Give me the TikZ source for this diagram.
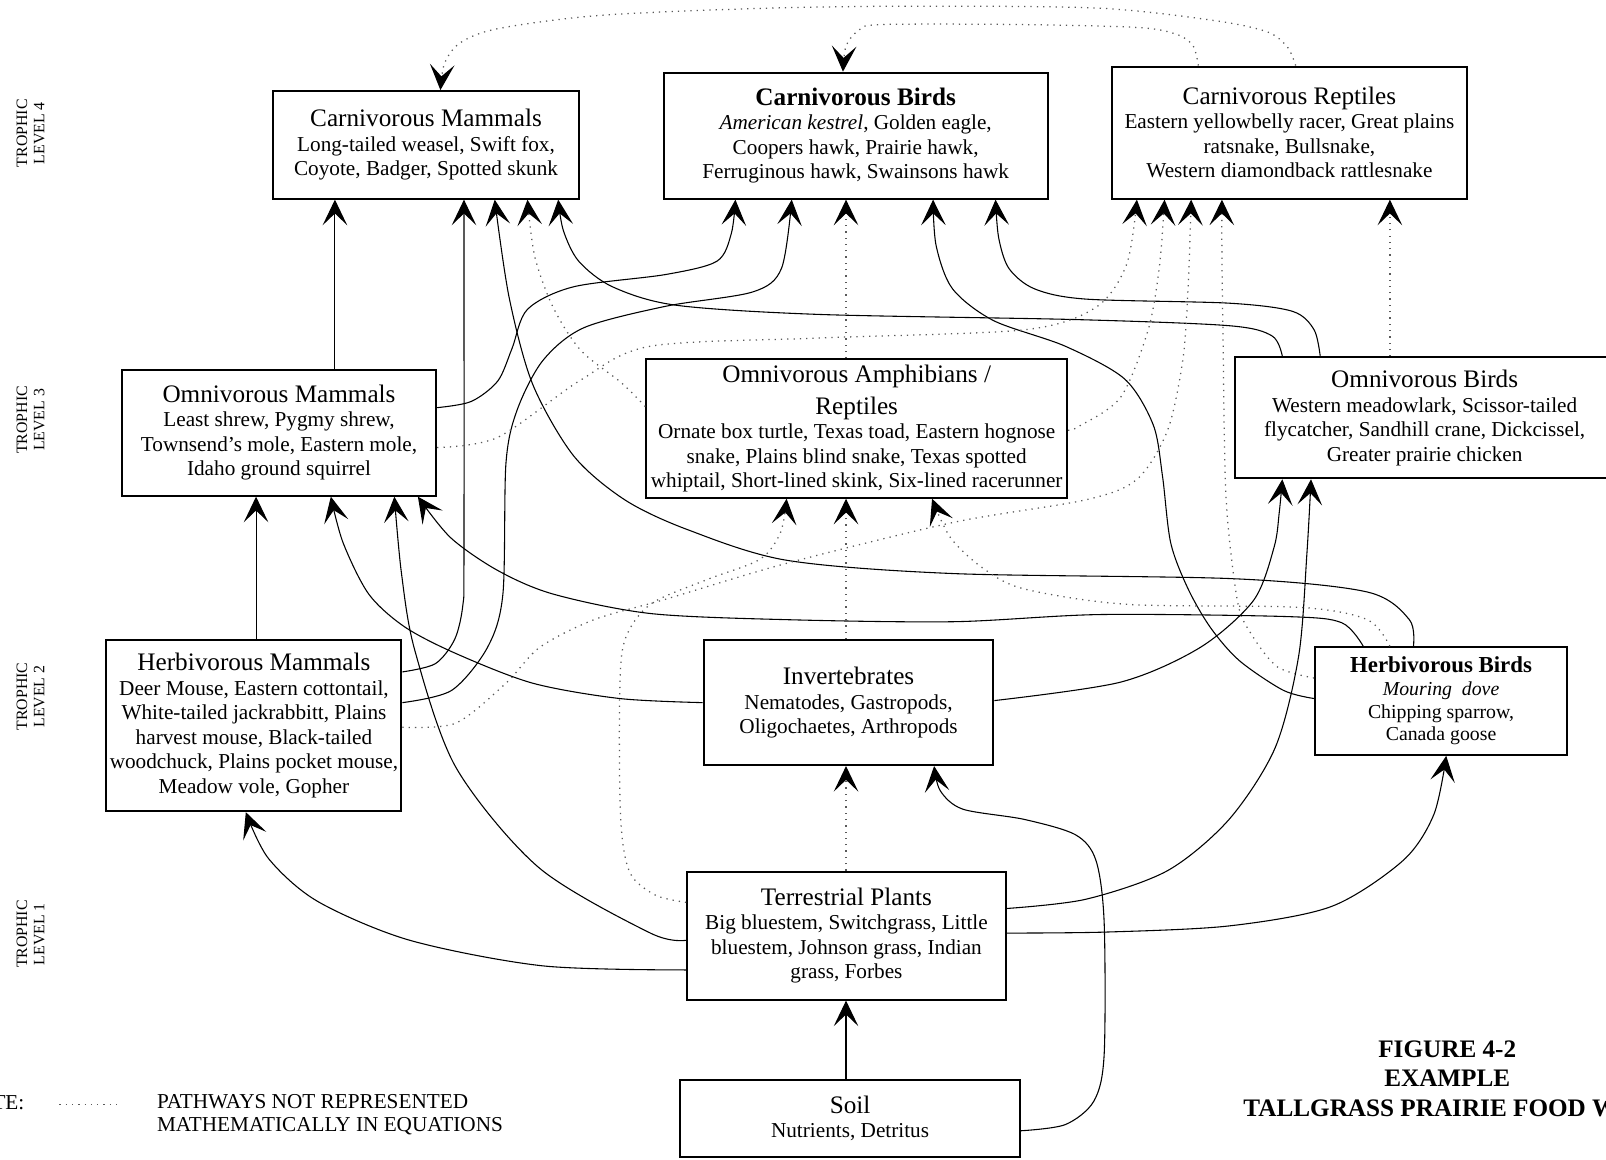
\documentclass[tikz,border=0pt]{standalone}
\usepackage{fontspec}
\setmainfont{Liberation Serif}
\usetikzlibrary{arrows.meta}
\newcommand{\ttl}{\fontsize{14}{16}\selectfont}
\tikzset{>={Stealth[length=5mm,width=4.8mm,inset=2.3mm]},
  box/.style={draw, line width=1.1pt, anchor=north west, align=center, inner sep=0pt,
    font=\fontsize{11.8}{13.6}\selectfont},
  link/.style={->, line width=0.6pt},
  nolink/.style={-{Stealth[length=5mm,width=4.8mm,inset=2.3mm,black]}, black!65,
    line width=0.7pt, dash pattern=on 0.7pt off 2.8pt},
  trophic/.style={rotate=90, align=center, font=\fontsize{8.8}{9.6}\selectfont}}

\begin{document}
\begin{tikzpicture}[x=0.02cm,y=-0.02cm]
  \useasboundingbox (0,0) rectangle (1568,1132);

  \node[trophic] (lev4) at (30,130) {TROPHIC\\LEVEL 4};
  \node[trophic] (lev3) at (30,410) {TROPHIC\\LEVEL 3};
  \node[trophic] (lev2) at (30,680) {TROPHIC\\LEVEL 2};
  \node[trophic] (lev1) at (30,912) {TROPHIC\\LEVEL 1};

  % trophic level 4
  \node[box, minimum width=5.96cm, minimum height=2.10cm] (cm) at (266,88)
    {{\ttl Carnivorous Mammals}\\Long-tailed weasel, Swift fox,\\Coyote, Badger, Spotted skunk};
  \node[box, minimum width=7.50cm, minimum height=2.46cm] (cb) at (647,70)
    {{\ttl\bfseries Carnivorous Birds}\\\textit{American kestrel}, Golden eagle,\\Coopers hawk, Prairie hawk,\\Ferruginous hawk, Swainsons hawk};
  \node[box, minimum width=6.92cm, minimum height=2.58cm] (cr) at (1085,64)
    {{\ttl Carnivorous Reptiles}\\Eastern yellowbelly racer, Great plains\\ratsnake, Bullsnake,\\Western diamondback rattlesnake};

  % trophic level 3
  \node[box, minimum width=6.14cm, minimum height=2.46cm] (om) at (118,360)
    {{\ttl Omnivorous Mammals}\\Least shrew, Pygmy shrew,\\Townsend's mole, Eastern mole,\\Idaho ground squirrel};
  \node[box, minimum width=8.22cm, minimum height=2.70cm] (oa) at (630,350)
    {{\ttl Omnivorous Amphibians /}\\[4pt]{\ttl Reptiles}\\Ornate box turtle, Texas toad, Eastern hognose\\snake, Plains blind snake, Texas spotted\\whiptail, Short-lined skink, Six-lined racerunner};
  \node[box, minimum width=7.40cm, minimum height=2.36cm] (ob) at (1205,348)
    {{\ttl Omnivorous Birds}\\Western meadowlark, Scissor-tailed\\flycatcher, Sandhill crane, Dickcissel,\\Greater prairie chicken};

  % trophic level 2
  \node[box, minimum width=5.76cm, minimum height=3.34cm] (hm) at (103,624)
    {{\ttl Herbivorous Mammals}\\Deer Mouse, Eastern cottontail,\\White-tailed jackrabbitt, Plains\\harvest mouse, Black-tailed\\woodchuck, Plains pocket mouse,\\Meadow vole, Gopher};
  \node[box, minimum width=5.66cm, minimum height=2.44cm] (in) at (686,624)
    {{\ttl Invertebrates}\\Nematodes, Gastropods,\\Oligochaetes, Arthropods};
  \node[box, minimum width=4.92cm, minimum height=2.10cm, font=\fontsize{11}{12.6}\selectfont] (hb) at (1283,631)
    {{\fontsize{12.7}{15}\selectfont\bfseries Herbivorous Birds}\\\textit{Mouring\ \ dove}\\Chipping sparrow,\\Canada goose};

  % trophic level 1 and soil
  \node[box, minimum width=6.22cm, minimum height=2.50cm] (tp) at (670,850)
    {{\ttl Terrestrial Plants}\\Big bluestem, Switchgrass, Little\\bluestem, Johnson grass, Indian\\grass, Forbes};
  \node[box, minimum width=6.64cm, minimum height=1.52cm] (soil) at (663,1053)
    {{\ttl Soil}\\Nutrients, Detritus};

  % straight links
  \draw[link] (om.north -| 327,0) -- (cm.south -| 327,0);
  \draw[link] (hm.north -| 250,0) -- (om.south -| 250,0);
  \draw[link] (soil.north -| 826,0) -- (tp.south -| 826,0);
  \draw[nolink] (tp.north -| 826,0) -- (in.south -| 826,0);
  \draw[nolink] (in.north -| 826,0) -- (oa.south -| 826,0);
  \draw[nolink] (oa.north -| 826,0) -- (cb.south -| 826,0);
  \draw[nolink] (ob.north -| 1357,0) -- (cr.south -| 1357,0);

  % into level 4
  \draw[link] plot[smooth] coordinates {(hm.east |- 0,656) (425,648) (444,624) (452,590) (453,540) (cm.south -| 453,0)};
  \draw[link] plot[smooth] coordinates {(hb.north -| 1380,0) (1376,605) (1335,578) (1204,565) (931,560) (768,547) (671,517) (610,488) (560,445) (520,375) (497,290) (cm.south -| 483,0)};
  \draw[link] plot[smooth] coordinates {(ob.north -| 1252,0) (1242,328) (1200,318) (1050,312) (800,307) (660,298) (598,280) (565,255) (550,225) (cm.south -| 545,0)};
  \draw[link] plot[smooth] coordinates {(om.east |- 0,398) (460,392) (486,372) (500,340) (515,302) (560,280) (650,268) (700,255) (714,228) (cb.south -| 718,0)};
  \draw[link] plot[smooth] coordinates {(hm.east |- 0,686) (441,674) (476,632) (491,580) (494,452) (505,400) (530,352) (570,320) (650,299) (735,285) (763,262) (cb.south -| 773,0)};
  \draw[link] plot[smooth] coordinates {(hb.west |- 0,682) (1253,674) (1210,645) (1182,613) (1160,575) (1143,530) (1135,465) (1126,415) (1098,370) (1040,338) (970,313) (930,282) (914,240) (cb.south -| 911,0)};
  \draw[link] plot[smooth] coordinates {(ob.north -| 1289,0) (1283,322) (1262,304) (1200,296) (1060,292) (1010,282) (985,262) (975,232) (cb.south -| 972,0)};
  \draw[nolink] plot[smooth] coordinates {(oa.west |- 0,397) (607,374) (567,342) (540,300) (522,250) (cm.south -| 515,0)};
  \draw[nolink] plot[smooth] coordinates {(om.east |- 0,437) (486,427) (567,371) (635,338) (800,330) (1000,322) (1070,300) (1100,258) (cr.south -| 1110,0)};
  \draw[nolink] plot[smooth] coordinates {(oa.east |- 0,420) (1052,417) (1094,388) (1121,322) (1132,260) (cr.south -| 1137,0)};
  \draw[nolink] plot[smooth] coordinates {(hm.east |- 0,710) (445,706) (494,667) (527,632) (580,605) (650,585) (768,550) (931,510) (1060,488) (1110,468) (1140,420) (1155,350) (1160,280) (cr.south -| 1163,0)};
  \draw[nolink] plot[smooth] coordinates {(hb.west |- 0,662) (1247,651) (1221,618) (1208,586) (1197,485) (1194,322) (1193,250) (cr.south -| 1193,0)};
  \draw[nolink] plot[smooth] coordinates {(cr.north -| 1170,0) (1165,45) (1150,34) (1113,27) (1000,24) (860,24) (838,30) (826,45) (cb.north -| 823,0)};
  \draw[nolink] plot[smooth] coordinates {(cr.north -| 1265,0) (1257,46) (1237,31) (1185,20) (1074,8) (900,6) (749,8) (586,15) (486,28) (449,42) (434,62) (cm.north -| 430,0)};

  % into level 3
  \draw[link] plot[smooth] coordinates {(in.west |- 0,686) (605,682) (520,667) (445,638) (395,612) (360,580) (335,530) (om.south -| 323,0)};
  \draw[link] plot[smooth] coordinates {(tp.west |- 0,918) (635,911) (526,847) (445,749) (405,635) (392,560) (om.south -| 385,0)};
  \draw[link] plot[smooth] coordinates {(hb.north -| 1331,0) (1310,608) (1257,602) (1074,600) (931,607) (768,605) (635,599) (540,580) (486,557) (440,525) (om.south -| 408,0)};
  \draw[link] plot[smooth] coordinates {(in.east |- 0,684) (1094,666) (1172,632) (1224,586) (1244,534) (1249,500) (ob.south -| 1252,0)};
  \draw[link] plot[smooth] coordinates {(tp.east |- 0,887) (1060,878) (1140,850) (1200,800) (1245,730) (1268,640) (1276,540) (ob.south -| 1280,0)};
  \draw[nolink] plot[smooth] coordinates {(hb.north -| 1357,0) (1335,605) (1269,593) (1100,590) (1000,575) (960,555) (928,525) (oa.south -| 910,0)};
  \draw[nolink] plot[smooth] coordinates {(tp.west |- 0,881) (640,874) (615,852) (606,800) (605,680) (610,625) (635,590) (690,566) (742,546) (762,520) (oa.south -| 768,0)};

  % into level 2
  \draw[link] plot[smooth] coordinates {(tp.west |- 0,947) (530,943) (400,918) (310,880) (262,838) (hm.south -| 240,0)};
  \draw[link] plot[smooth] coordinates {(tp.east |- 0,911) (1080,910) (1200,904) (1300,885) (1370,840) (1400,795) (hb.south -| 1412,0)};
  \draw[link] plot[smooth] coordinates {(soil.east |- 0,1104) (1040,1098) (1068,1075) (1078,1030) (1078,900) (1070,840) (1050,815) (1000,800) (940,790) (918,772) (in.south -| 912,0)};

  % legend and caption
  \node[anchor=east, font=\fontsize{11.8}{13.6}\selectfont] (note) at (30,1077) {NOTE:};
  \coordinate (legA) at (58,1078);
  \coordinate (legB) at (118,1078);
  \draw[black!65, line width=0.7pt, dash pattern=on 0.7pt off 2.8pt] (legA) -- (legB);
  \node[anchor=north west, align=left, inner sep=0pt, font=\fontsize{11.8}{13}\selectfont] (pathnote) at (153,1068)
    {PATHWAYS NOT REPRESENTED\\MATHEMATICALLY IN EQUATIONS};
  \node[align=center, font=\bfseries\fontsize{14}{16.4}\selectfont] (figcap) at (1413,1053)
    {FIGURE 4-2\\EXAMPLE\\TALLGRASS PRAIRIE FOOD WEB};
\end{tikzpicture}
\end{document}
